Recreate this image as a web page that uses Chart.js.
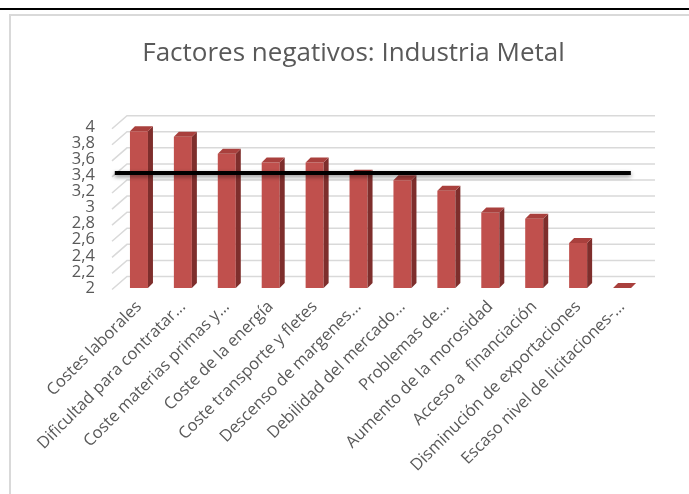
<!DOCTYPE html>
<html>
<head>
<meta charset="utf-8">
<script src="https://cdn.jsdelivr.net/npm/chart.js@4"></script>
<style>
  html, body { margin: 0; padding: 0; background: #fff; }
  #wrap { position: relative; width: 689px; height: 494px; overflow: hidden; }
  #rule { position: absolute; left: 0; top: 8px; width: 689px; height: 2px; background: #000; }
  #frame { position: absolute; left: 9px; top: 14px; width: 720px; height: 520px;
           border-left: 2px solid #d9d9d9; border-top: 2px solid #d9d9d9; }
  #chart { position: absolute; left: 0; top: 0; }
</style>
</head>
<body>
<div id="wrap">
  <div id="rule"></div>
  <div id="frame"></div>
  <canvas id="chart" width="689" height="494"></canvas>
</div>
<script>
// data
const categories = [
  'Costes laborales',
  'Dificultad para contratar...',
  'Coste materias primas y...',
  'Coste de la energía',
  'Coste transporte y fletes',
  'Descenso de margenes...',
  'Debilidad del mercado...',
  'Problemas de...',
  'Aumento de la morosidad',
  'Acceso a  financiación',
  'Disminución de exportaciones',
  'Escaso nivel de licitaciones-...'
];
const values = [3.95, 3.88, 3.67, 3.56, 3.56, 3.41, 3.34, 3.21, 2.94, 2.86, 2.56, 2.0];

// black reference line (level and horizontal extent in category units)
const refLevel = 3.43;
const refLineX = [-0.55, 11.2];

// value axis
const yMin = 2, yMax = 4, yStep = 0.2;

const fmt = v => String(Math.round(v * 10) / 10).replace('.', ',');

// back wall gridlines with the little diagonal to the front edge
const wallGrid = {
  id: 'wallGrid',
  beforeDatasetsDraw(chart) {
    const { ctx, chartArea, scales: { y } } = chart;
    ctx.save();
    ctx.strokeStyle = '#d9d9d9';
    ctx.lineWidth = 1.5;
    y.ticks.forEach(t => {
      const py = y.getPixelForValue(t.value);
      ctx.beginPath();
      ctx.moveTo(chartArea.left - 5, py + 1.5);
      ctx.lineTo(chartArea.left + 10, py - 11.5);
      ctx.lineTo(chartArea.right + 11, py - 11.5);
      ctx.stroke();
    });
    ctx.restore();
  }
};

// fake 3D: side + top faces for bars, shadow for the black line
const depth = {
  id: 'depth',
  beforeDatasetDraw(chart, args) {
    if (chart.data.datasets[args.index].type === 'line') {
      const ctx = chart.ctx;
      ctx.save();
      ctx.shadowColor = 'rgba(0,0,0,0.45)';
      ctx.shadowBlur = 4;
      ctx.shadowOffsetY = 2;
    }
  },
  afterDatasetDraw(chart, args) {
    const ctx = chart.ctx;
    if (chart.data.datasets[args.index].type === 'line') { ctx.restore(); return; }
    const dx = 5, dy = 5;
    const floor = chart.scales.y.getPixelForValue(yMin);
    args.meta.data.forEach(bar => {
      const { x, y, width } = bar.getProps(['x', 'y', 'width'], true);
      const l = x - width / 2, r = x + width / 2;
      ctx.save();
      ctx.fillStyle = '#7e2e2c';
      ctx.beginPath();
      ctx.moveTo(r, y); ctx.lineTo(r + dx, y - dy); ctx.lineTo(r + dx, floor - dy); ctx.lineTo(r, floor);
      ctx.closePath(); ctx.fill();
      ctx.fillStyle = '#a9403d';
      ctx.beginPath();
      ctx.moveTo(l, y); ctx.lineTo(l + dx, y - dy); ctx.lineTo(r + dx, y - dy); ctx.lineTo(r, y);
      ctx.closePath(); ctx.fill();
      ctx.restore();
    });
  }
};

new Chart(document.getElementById('chart'), {
  type: 'bar',
  data: {
    labels: categories,
    datasets: [
      {
        type: 'line',
        data: refLineX.map(x => ({ x, y: refLevel })),
        xAxisID: 'x2',
        borderColor: '#000',
        borderWidth: 4,
        pointRadius: 0,
        clip: false
      },
      {
        type: 'bar',
        data: values,
        backgroundColor: '#c0504d',
        grouped: false,
        categoryPercentage: 1,
        barPercentage: 0.41
      }
    ]
  },
  options: {
    responsive: false,
    animation: false,
    layout: { padding: { left: 18, right: 0, top: 0, bottom: 0 } },
    plugins: {
      legend: { display: false },
      tooltip: { enabled: false },
      title: {
        display: true,
        text: 'Factores negativos: Industria Metal',
        color: '#595959',
        font: { family: 'Open Sans', size: 26, weight: 'normal', lineHeight: 1.2 },
        padding: { top: 38, bottom: 58 }
      }
    },
    scales: {
      x: {
        grid: { display: false, drawTicks: false },
        border: { display: false },
        ticks: {
          autoSkip: false, minRotation: 45, maxRotation: 45, padding: 9,
          color: '#595959', font: { family: 'Open Sans', size: 16.5 }
        },
        afterFit: s => { s.height = 206; s.paddingLeft = 0; s.paddingRight = 0; }
      },
      x2: {
        type: 'linear', position: 'bottom', min: -0.5, max: 11.5, offset: false,
        grid: { display: false, drawTicks: false, offset: false },
        border: { display: false },
        ticks: { display: false },
        afterFit: s => { s.height = 0; s.paddingLeft = 0; s.paddingRight = 0; }
      },
      y: {
        min: yMin, max: yMax,
        grid: { display: false, drawTicks: false },
        border: { display: false },
        ticks: {
          autoSkip: false, stepSize: yStep, padding: 22, callback: fmt,
          color: '#595959', font: { family: 'Open Sans', size: 16.5 }
        },
        afterFit: s => { s.width = 99; }
      },
      yR: {
        position: 'right',
        grid: { display: false, drawTicks: false },
        border: { display: false },
        ticks: { display: false },
        afterFit: s => { s.width = 45; }
      }
    }
  },
  plugins: [wallGrid, depth]
});
</script>
</body>
</html>
